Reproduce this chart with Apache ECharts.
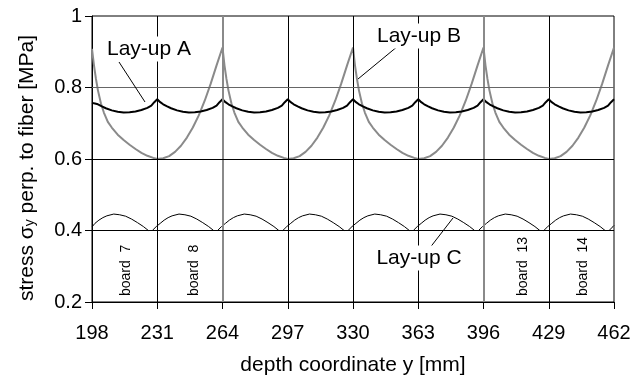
<!DOCTYPE html>
<html><head><meta charset="utf-8">
<script src="https://cdn.jsdelivr.net/npm/echarts@6/dist/echarts.min.js"></script>
<style>html,body{margin:0;padding:0;background:#fff}#c{width:634px;height:383px}</style>
</head><body><div id="c"></div>
<script>
// ---- data ----
const xTicks = [198, 231, 264, 297, 330, 363, 396, 429, 462];
const yTicks = [0.2, 0.4, 0.6, 0.8, 1];

const layupA_x = [
198,199.5,201,203,205,208,211,214,217,220,223,226,228,229.5,
231,232.5,234,236,238,241,244,247,250,253,256,259,261,262.5,
264,265.5,267,269,271,274,277,280,283,286,289,292,294,295.5,
297,298.5,300,302,304,307,310,313,316,319,322,325,327,328.5,
330,331.5,333,335,337,340,343,346,349,352,355,358,360,361.5,
363,364.5,366,368,370,373,376,379,382,385,388,391,393,394.5,
396,397.5,399,401,403,406,409,412,415,418,421,424,426,427.5,
429,430.5,432,434,436,439,442,445,448,451,454,457,459,460.5,
462];
const layupA_y = [
0.757,0.755,0.753,0.747,0.742,0.736,0.732,0.730,0.731,0.733,0.737,0.743,0.749,0.759,
0.767,0.759,0.753,0.747,0.742,0.736,0.732,0.730,0.731,0.733,0.737,0.743,0.749,0.759,
0.767,0.759,0.753,0.747,0.742,0.736,0.732,0.730,0.731,0.733,0.737,0.743,0.749,0.759,
0.767,0.759,0.753,0.747,0.742,0.736,0.732,0.730,0.731,0.733,0.737,0.743,0.749,0.759,
0.767,0.759,0.753,0.747,0.742,0.736,0.732,0.730,0.731,0.733,0.737,0.743,0.749,0.759,
0.767,0.759,0.753,0.747,0.742,0.736,0.732,0.730,0.731,0.733,0.737,0.743,0.749,0.759,
0.767,0.759,0.753,0.747,0.742,0.736,0.732,0.730,0.731,0.733,0.737,0.743,0.749,0.759,
0.767,0.759,0.753,0.747,0.742,0.736,0.732,0.730,0.731,0.733,0.737,0.743,0.749,0.759,
0.767];

const layupB_x = [
198,199,200,201,202.5,204,206,208,211,214,217,220,223,226,229,231,234,237,240,243,246,249,252,255,258,261,264,
265,266,267,268.5,270,272,274,277,280,283,286,289,292,295,297,300,303,306,309,312,315,318,321,324,327,330,
331,332,333,334.5,336,338,340,343,346,349,352,355,358,361,363,366,369,372,375,378,381,384,387,390,393,396,
397,398,399,400.5,402,404,406,409,412,415,418,421,424,427,429,432,435,438,441,444,447,450,453,456,459,462];
const layupB_y = [
0.908,0.862,0.824,0.792,0.756,0.730,0.704,0.688,0.668,0.653,0.640,0.628,0.617,0.609,0.603,0.600,0.602,0.608,0.620,0.637,0.660,0.688,0.722,0.763,0.810,0.862,0.912,
0.862,0.824,0.792,0.756,0.730,0.704,0.688,0.668,0.653,0.640,0.628,0.617,0.609,0.603,0.600,0.602,0.608,0.620,0.637,0.660,0.688,0.722,0.763,0.810,0.862,0.912,
0.862,0.824,0.792,0.756,0.730,0.704,0.688,0.668,0.653,0.640,0.628,0.617,0.609,0.603,0.600,0.602,0.608,0.620,0.637,0.660,0.688,0.722,0.763,0.810,0.862,0.912,
0.862,0.824,0.792,0.756,0.730,0.704,0.688,0.668,0.653,0.640,0.628,0.617,0.609,0.603,0.600,0.602,0.608,0.620,0.637,0.660,0.688,0.722,0.763,0.810,0.862,0.912];

const layupC_x = [
198,199.5,201.5,203.5,205.5,209,212,215,218,221,224,226.5,
228.5,230.5,232.5,234.5,236.5,238.5,242,245,248,251,254,257,259.5,
261.5,263.5,265.5,267.5,269.5,271.5,275,278,281,284,287,290,292.5,
294.5,296.5,298.5,300.5,302.5,304.5,308,311,314,317,320,323,325.5,
327.5,329.5,331.5,333.5,335.5,337.5,341,344,347,350,353,356,358.5,
360.5,362.5,364.5,366.5,368.5,370.5,374,377,380,383,386,389,391.5,
393.5,395.5,397.5,399.5,401.5,403.5,407,410,413,416,419,422,424.5,
426.5,428.5,430.5,432.5,434.5,436.5,440,443,446,449,452,455,457.5,
459.5,461.5,462];
const layupC_y = [
0.410,0.420,0.429,0.436,0.441,0.446,0.444,0.440,0.432,0.422,0.411,0.400,
0.400,0.411,0.420,0.429,0.436,0.441,0.446,0.444,0.440,0.432,0.422,0.411,0.400,
0.400,0.411,0.420,0.429,0.436,0.441,0.446,0.444,0.440,0.432,0.422,0.411,0.400,
0.400,0.411,0.420,0.429,0.436,0.441,0.446,0.444,0.440,0.432,0.422,0.411,0.400,
0.400,0.411,0.420,0.429,0.436,0.441,0.446,0.444,0.440,0.432,0.422,0.411,0.400,
0.400,0.411,0.420,0.429,0.436,0.441,0.446,0.444,0.440,0.432,0.422,0.411,0.400,
0.400,0.411,0.420,0.429,0.436,0.441,0.446,0.444,0.440,0.432,0.422,0.411,0.400,
0.400,0.411,0.420,0.429,0.436,0.441,0.446,0.444,0.440,0.432,0.422,0.411,0.400,
0.400,0.411,0.414];

const seriesNames = ['Lay-up A', 'Lay-up B', 'Lay-up C'];
const boardLabels = ['board  7', 'board  8', 'board  13', 'board  14'];
const xTitle = 'depth coordinate y [mm]';

// ---- chart ----
const FF = '"Liberation Sans", Arial, Helvetica, sans-serif';
const zip = (xs, ys) => xs.map((x, i) => [x, ys[i]]);
const chart = echarts.init(document.getElementById('c'), null, {renderer: 'canvas'});

const vGrid = [231, 264, 297, 330, 363, 396, 429].map(v => ({
  xAxis: v,
  lineStyle: (v === 264 || v === 396) ? {color: '#8a8a8a', width: 2, type: 'solid'} : {color: '#000', width: 1, type: 'solid'}
}));
const hGrid = [0.4, 0.6, 0.8].map(v => ({
  yAxis: v,
  lineStyle: v === 0.8 ? {color: '#666', width: 1, type: 'solid'} : {color: '#000', width: 1, type: 'solid'}
}));

const option = {
  animation: false,
  backgroundColor: '#fff',
  grid: {left: 92, right: 20, top: 16, bottom: 81, show: true, borderColor: '#000', borderWidth: 1, backgroundColor: 'transparent'},
  xAxis: {
    type: 'value', min: xTicks[0], max: xTicks[xTicks.length - 1], interval: 33,
    axisLine: {lineStyle: {color: '#000', width: 1}},
    axisTick: {show: true, inside: false, length: 7, lineStyle: {color: '#000'}},
    axisLabel: {color: '#000', fontSize: 20, fontFamily: FF, margin: 21},
    splitLine: {show: false},
    name: xTitle, nameLocation: 'middle', nameGap: 53,
    nameTextStyle: {color: '#000', fontSize: 21, fontFamily: FF}
  },
  yAxis: {
    type: 'value', min: yTicks[0], max: yTicks[yTicks.length - 1], interval: 0.2,
    axisLine: {show: true, lineStyle: {color: '#000', width: 1}},
    axisTick: {show: true, inside: false, length: 7, lineStyle: {color: '#000'}},
    axisLabel: {color: '#000', fontSize: 20, fontFamily: FF, margin: 10},
    splitLine: {show: false}
  },
  series: [
    {type: 'line', data: [], z: 1, silent: true,
     markLine: {silent: true, symbol: ['none', 'none'], label: {show: false}, animation: false,
       lineStyle: {type: 'solid'}, data: vGrid.concat(hGrid)}},
    {name: seriesNames[1], type: 'line', data: zip(layupB_x, layupB_y), showSymbol: false, z: 3,
     lineStyle: {color: '#8a8a8a', width: 2}, itemStyle: {color: '#8a8a8a'}},
    {name: seriesNames[0], type: 'line', data: zip(layupA_x, layupA_y), showSymbol: false, z: 4,
     lineStyle: {color: '#000', width: 2}, itemStyle: {color: '#000'}},
    {name: seriesNames[2], type: 'line', data: zip(layupC_x, layupC_y), showSymbol: false, z: 4,
     lineStyle: {color: '#000', width: 1}, itemStyle: {color: '#000'}}
  ],
  graphic: [
    {type: 'text', z: 60, x: 27, y: 168, rotation: Math.PI / 2,
     style: {text: 'stress σ{s|y} perp. to fiber [MPa]', fontSize: 21, fontFamily: FF, fill: '#000', align: 'center', verticalAlign: 'middle',
       rich: {s: {fontSize: 14, fontFamily: FF, fill: '#000', verticalAlign: 'bottom', lineHeight: 12}}}},
    {type: 'line', z: 50, shape: {x1: 119, y1: 62, x2: 145, y2: 102}, style: {stroke: '#000', lineWidth: 1}},
    {type: 'line', z: 50, shape: {x1: 398, y1: 46, x2: 358, y2: 79}, style: {stroke: '#000', lineWidth: 1}},
    {type: 'line', z: 50, shape: {x1: 429, y1: 249, x2: 453, y2: 218}, style: {stroke: '#000', lineWidth: 1}},
    {type: 'text', z: 60, x: 149, y: 49, style: {text: seriesNames[0], fontSize: 21, fontFamily: FF, fill: '#000', align: 'center', verticalAlign: 'middle', backgroundColor: '#fff', padding: [2, 3]}},
    {type: 'text', z: 60, x: 419, y: 36, style: {text: seriesNames[1], fontSize: 21, fontFamily: FF, fill: '#000', align: 'center', verticalAlign: 'middle', backgroundColor: '#fff', padding: [2, 3]}},
    {type: 'text', z: 60, x: 419, y: 258, style: {text: seriesNames[2], fontSize: 21, fontFamily: FF, fill: '#000', align: 'center', verticalAlign: 'middle', backgroundColor: '#fff', padding: [2, 3]}},
    {type: 'text', z: 60, x: 126, y: 296, rotation: Math.PI / 2, style: {text: boardLabels[0], fontSize: 14, fontFamily: FF, fill: '#000', align: 'left', verticalAlign: 'middle'}},
    {type: 'text', z: 60, x: 194, y: 296, rotation: Math.PI / 2, style: {text: boardLabels[1], fontSize: 14, fontFamily: FF, fill: '#000', align: 'left', verticalAlign: 'middle'}},
    {type: 'text', z: 60, x: 523, y: 296, rotation: Math.PI / 2, style: {text: boardLabels[2], fontSize: 14, fontFamily: FF, fill: '#000', align: 'left', verticalAlign: 'middle'}},
    {type: 'text', z: 60, x: 583, y: 296, rotation: Math.PI / 2, style: {text: boardLabels[3], fontSize: 14, fontFamily: FF, fill: '#000', align: 'left', verticalAlign: 'middle'}}
  ]
};
chart.setOption(option);
</script>
</body></html>
